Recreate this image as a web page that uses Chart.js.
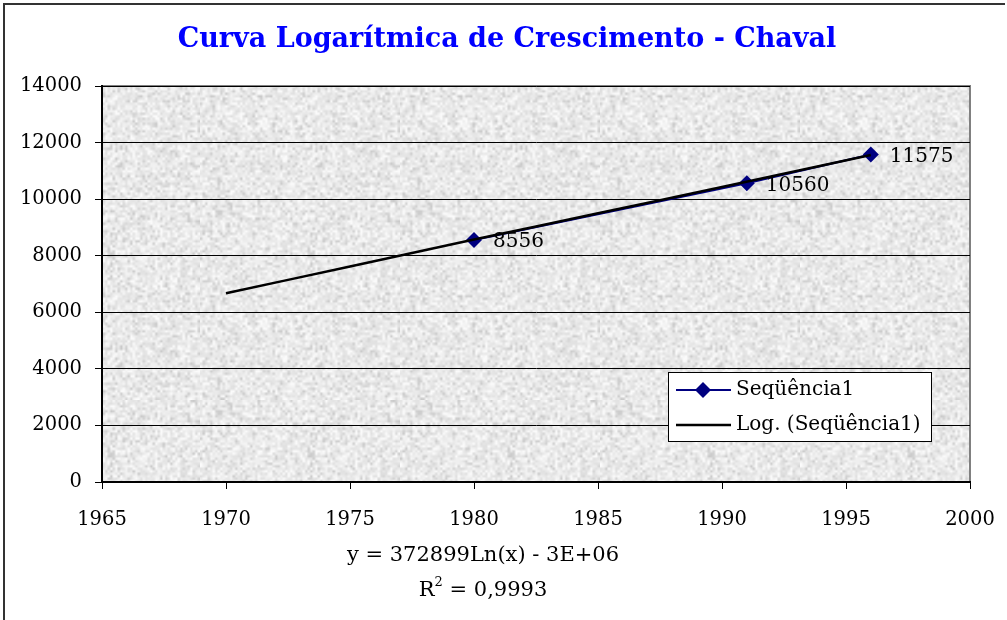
<!DOCTYPE html>
<html>
<head>
<meta charset="utf-8">
<title>Curva Logarítmica de Crescimento - Chaval</title>
<script src="https://cdn.jsdelivr.net/npm/chart.js@4.4.1/dist/chart.umd.min.js"></script>
<style>
  html, body { margin: 0; padding: 0; background: #ffffff; }
  #wrap { width: 1007px; height: 620px; position: relative; }
</style>
</head>
<body>
<div id="wrap"><canvas id="chavalChart" width="1007" height="620"></canvas></div>
<script>
// Census points (year, population)
const years = [1980, 1991, 1996];
const population = [8556, 10560, 11575];

// Logarithmic trend line
const trendYears = [1970, 1975, 1980, 1985, 1990, 1996];
const trendValues = [6670, 7620, 8570, 9500, 10430, 11560];

// Axis ticks
const xTicks = [1965, 1970, 1975, 1980, 1985, 1990, 1995, 2000];
const yTicks = [0, 2000, 4000, 6000, 8000, 10000, 12000, 14000];

const titleText = 'Curva Logarítmica de Crescimento - Chaval';
const equationText = 'y = 372899Ln(x) - 3E+06';
const r2Text = '0,9993';
const seriesName = 'Seqüência1';
const trendName = 'Log. (Seqüência1)';

const serif = '"DejaVu Serif", "Liberation Serif", serif';
const navy = '#000080';

// granite-like texture for the plot area
function makeGranite() {
    const small = document.createElement('canvas');
    small.width = 80; small.height = 80;
    const sctx = small.getContext('2d');
    const img = sctx.createImageData(80, 80);
    let seed = 12345;
    const rnd = () => { seed = (seed * 1103515245 + 12345) & 0x7fffffff; return seed / 0x7fffffff; };
    for (let i = 0; i < 80 * 80; i++) {
        const r = rnd();
        let v = 234 + Math.round((rnd() - 0.5) * 24);
        if (r < 0.14) v = 200 + Math.round(rnd() * 20);
        else if (r > 0.88) v = 251;
        img.data[i * 4] = v; img.data[i * 4 + 1] = v; img.data[i * 4 + 2] = v; img.data[i * 4 + 3] = 255;
    }
    sctx.putImageData(img, 0, 0);
    const big = document.createElement('canvas');
    big.width = 200; big.height = 200;
    const bctx = big.getContext('2d');
    bctx.imageSmoothingEnabled = true;
    bctx.drawImage(small, 0, 0, 200, 200);
    return big;
}

const chartDecor = {
    id: 'chartDecor',
    beforeDraw(chart) {
        const { ctx, chartArea: a } = chart;
        ctx.save();
        ctx.fillStyle = '#ffffff';
        ctx.fillRect(0, 0, chart.width, chart.height);
        // outer frame (left and top visible)
        ctx.strokeStyle = '#333333';
        ctx.lineWidth = 2;
        ctx.beginPath();
        ctx.moveTo(4, chart.height);
        ctx.lineTo(4, 4);
        ctx.lineTo(1005, 4);
        ctx.stroke();
        // plot area texture
        ctx.fillStyle = ctx.createPattern(makeGranite(), 'repeat');
        ctx.fillRect(a.left, a.top, a.right - a.left, a.bottom - a.top);
        // plot area frame (top and right)
        ctx.strokeStyle = '#808080';
        ctx.lineWidth = 2;
        ctx.beginPath();
        ctx.moveTo(a.left, a.top);
        ctx.lineTo(a.right, a.top);
        ctx.lineTo(a.right, a.bottom);
        ctx.stroke();
        // title
        ctx.fillStyle = '#0000ff';
        ctx.font = 'bold 27px ' + serif;
        ctx.textAlign = 'center';
        ctx.textBaseline = 'middle';
        ctx.fillText(titleText, 507, 40);
        ctx.restore();
    },
    afterDatasetsDraw(chart) {
        const { ctx } = chart;
        const meta = chart.getDatasetMeta(1);
        ctx.save();
        ctx.fillStyle = '#000000';
        ctx.font = '20px ' + serif;
        ctx.textAlign = 'left';
        ctx.textBaseline = 'middle';
        meta.data.forEach((pt, i) => {
            ctx.fillText(String(population[i]), pt.x + 19, pt.y + 2);
        });
        ctx.restore();
    },
    afterDraw(chart) {
        const { ctx } = chart;
        ctx.save();
        // legend
        const lx = 668, ly = 372, lw = 263, lh = 69;
        ctx.fillStyle = '#ffffff';
        ctx.fillRect(lx, ly, lw, lh);
        ctx.strokeStyle = '#000000';
        ctx.lineWidth = 1;
        ctx.strokeRect(lx + 0.5, ly + 0.5, lw, lh);
        ctx.lineWidth = 2;
        ctx.strokeStyle = navy;
        ctx.beginPath(); ctx.moveTo(676, 390); ctx.lineTo(731, 390); ctx.stroke();
        ctx.fillStyle = navy;
        ctx.beginPath();
        ctx.moveTo(703, 382); ctx.lineTo(711, 390); ctx.lineTo(703, 398); ctx.lineTo(695, 390);
        ctx.closePath(); ctx.fill();
        ctx.strokeStyle = '#000000';
        ctx.lineWidth = 2.5;
        ctx.beginPath(); ctx.moveTo(676, 425); ctx.lineTo(731, 425); ctx.stroke();
        ctx.fillStyle = '#000000';
        ctx.font = '20px ' + serif;
        ctx.textAlign = 'left';
        ctx.textBaseline = 'middle';
        ctx.fillText(seriesName, 736, 390);
        ctx.fillText(trendName, 736, 425);
        // trend equation
        ctx.font = '21px ' + serif;
        ctx.textAlign = 'center';
        ctx.fillText(equationText, 483, 556);
        const rest = ' = ' + r2Text;
        const wR = ctx.measureText('R').width;
        const wRest = ctx.measureText(rest).width;
        ctx.font = '13px ' + serif;
        const wSup = ctx.measureText('2').width;
        const start = 483 - (wR + wSup + wRest) / 2;
        ctx.textAlign = 'left';
        ctx.fillText('2', start + wR, 583);
        ctx.font = '21px ' + serif;
        ctx.fillText('R', start, 591);
        ctx.fillText(rest, start + wR + wSup, 591);
        ctx.restore();
    }
};

const ctx = document.getElementById('chavalChart').getContext('2d');
const chavalChart = new Chart(ctx, {
    type: 'scatter',
    data: {
        datasets: [
            {
                label: trendName,
                data: trendYears.map((x, i) => ({ x: x, y: trendValues[i] })),
                showLine: true,
                borderColor: '#000000',
                borderWidth: 2.5,
                pointRadius: 0,
                tension: 0.3
            },
            {
                label: seriesName,
                data: years.map((x, i) => ({ x: x, y: population[i] })),
                showLine: true,
                borderColor: navy,
                backgroundColor: navy,
                borderWidth: 2,
                pointStyle: 'rectRot',
                pointRadius: 8,
                pointBorderWidth: 0
            }
        ]
    },
    options: {
        responsive: false,
        animation: false,
        layout: { padding: { left: 0, top: 86, right: 37, bottom: 0 } },
        scales: {
            x: {
                type: 'linear',
                min: 1965,
                max: 2000,
                afterBuildTicks: (scale) => { scale.ticks = xTicks.map(v => ({ value: v })); },
                afterFit: (scale) => {
                    scale.height = 138;
                    scale.paddingLeft = 0;
                    scale.paddingRight = 0;
                },
                ticks: {
                    color: '#000000',
                    font: { family: serif, size: 19.5 },
                    padding: 19,
                    maxRotation: 0,
                    callback: (v) => String(v)
                },
                grid: { drawOnChartArea: false, drawTicks: true, tickLength: 7, color: '#000000', lineWidth: 1 },
                border: { display: true, color: '#000000', width: 2 }
            },
            y: {
                type: 'linear',
                min: 0,
                max: 14000,
                afterBuildTicks: (scale) => { scale.ticks = yTicks.map(v => ({ value: v })); },
                afterFit: (scale) => {
                    scale.width = 102;
                    scale.paddingTop = 0;
                    scale.paddingBottom = 0;
                },
                ticks: {
                    color: '#000000',
                    font: { family: serif, size: 19.5 },
                    padding: 13,
                    callback: (v) => String(v)
                },
                grid: { color: '#000000', lineWidth: 1, tickLength: 7 },
                border: { display: true, color: '#000000', width: 2 }
            }
        },
        plugins: {
            legend: { display: false },
            title: { display: false },
            tooltip: { enabled: false }
        }
    },
    plugins: [chartDecor]
});
</script>
</body>
</html>
